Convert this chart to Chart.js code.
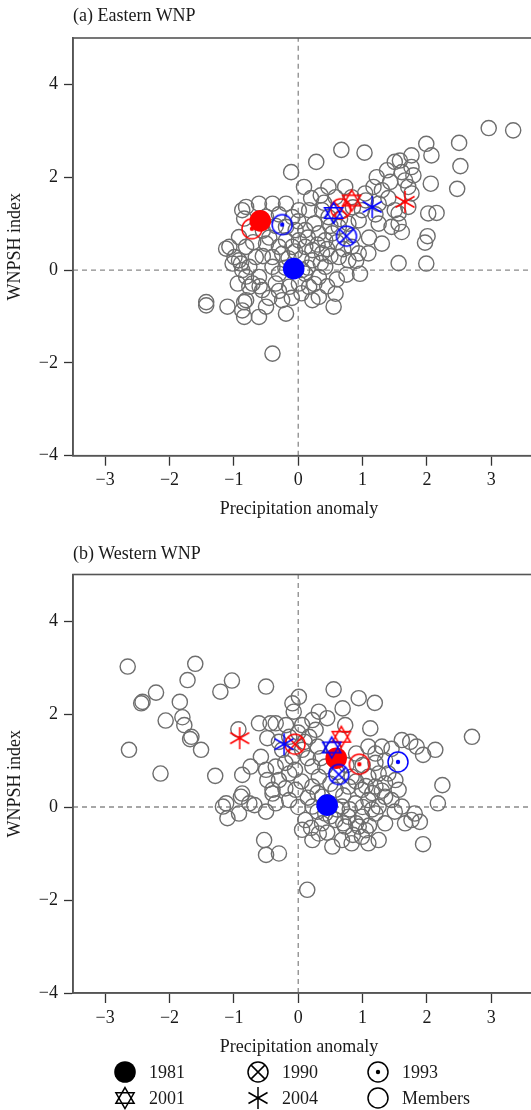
<!DOCTYPE html>
<html>
<head>
<meta charset="utf-8">
<script src="https://cdn.jsdelivr.net/npm/chart.js"></script>
<style>
  html, body { margin: 0; padding: 0; background: #fff; overflow: hidden; width: 531px; height: 1110px; }
  body { position: relative; font-family: "Liberation Serif", "Times New Roman", serif; color: #1a1a1a; }
  canvas { position: absolute; left: 0; }
  .ptitle { position: absolute; left: 73px; font-size: 18px; line-height: 20px; z-index: 2; }
  .xtitle { position: absolute; left: 199px; width: 200px; text-align: center; font-size: 18px; line-height: 20px; z-index: 2; }
  .leg { position: absolute; font-size: 18px; line-height: 20px; }
  .sym { position: absolute; }
</style>
</head>
<body>
<div class="ptitle" style="top:5px">(a) Eastern WNP</div>
<canvas id="east" width="560" height="525" style="top:0"></canvas>
<div class="xtitle" style="top:498px">Precipitation anomaly</div>
<div class="ptitle" style="top:543px">(b) Western WNP</div>
<canvas id="west" width="560" height="535" style="top:530px"></canvas>
<div class="xtitle" style="top:1036px">Precipitation anomaly</div>
<div id="legend"></div>

<script>
// axis ranges (right edge is cut off in the original figure)
const xMin = -3.5, xMax = 3.9;
const yMin = -4, yMax = 5;

const years = ['1981', '1990', '1993', '2001', '2004'];
const yearKinds = ['fill', 'cross', 'dot', 'star', 'ast'];

// [precip anomaly, WNPSH index] per year, red and blue versions
const eastRed  = [[-0.59, 1.06], [0.66, 1.32], [-0.72, 0.89], [0.83, 1.50], [1.66, 1.47]];
const eastBlue = [[-0.07, 0.03], [0.75, 0.73], [-0.25, 0.98], [0.55, 1.23], [1.15, 1.36]];
const westRed  = [[0.59, 1.05], [-0.05, 1.35], [0.95, 0.92], [0.67, 1.51], [-0.91, 1.48]];
const westBlue = [[0.45, 0.04], [0.63, 0.70], [1.55, 0.97], [0.52, 1.28], [-0.22, 1.35]];

const eastMembers = [
  [2.96,3.06],[3.34,3.01],[2.5,2.74],[2.52,2.24],[2.47,1.75],[1.99,2.72],[2.07,2.47],[1.76,2.47],
  [1.76,2.22],[1.79,2.04],[2.06,1.86],[1.71,1.79],[2.02,1.22],[2.15,1.23],[2.01,0.73],[1.97,0.59],
  [1.99,0.14],[1.61,0.82],[1.56,0.15],[1.56,1.0],[1.56,1.22],[1.58,2.36],
  [0.67,2.59],[1.03,2.53],[0.28,2.33],[-0.11,2.11],[0.09,1.79],[1.5,2.33],[1.38,2.15],[1.61,2.11],
  [1.22,2.0],[1.43,1.9],[1.66,1.93],[1.76,1.65],[0.47,1.79],[0.73,1.79],[0.35,1.61],[0.58,1.57],
  [0.83,1.57],[1.04,1.65],[1.17,1.79],[1.3,1.72],[1.25,1.43],[1.5,1.29],[1.71,1.36],[1.25,1.0],
  [1.45,0.93],[1.3,0.57],[0.96,-0.08],[1.09,0.36],[0.94,0.36],[0.83,0.5],[0.63,0.28],[0.78,0.21],
  [0.58,-0.51],[0.55,-0.79],[0.32,-0.58],[0.22,-0.65],[0.17,-0.36],[0.01,-0.29],[0.06,0.0],[-0.14,-0.36],
  [-0.3,-0.08],[-0.4,-1.8],[-0.25,-0.65],[-0.19,-0.94],[-0.5,-0.79],[-0.61,-1.01],[-0.81,-0.65],[-0.76,-0.36],
  [-0.87,-0.87],[-0.81,0.5],[-0.66,0.28],[-0.92,0.21],[-0.76,0.07],
  [-0.5,0.57],[-0.4,0.28],[-0.3,0.5],[-0.19,0.64],[-0.09,0.5],[0.01,0.64],[0.11,0.5],[0.22,0.43],
  [0.22,0.21],[0.37,0.36],[0.42,0.64],[0.32,0.79],[0.11,0.86],[-0.04,0.86],[-0.19,0.93],[-0.09,1.14],
  [0.01,1.29],[0.17,1.29],[-0.19,1.43],[-0.4,1.43],[-0.61,1.43],[-0.81,1.36],
  [0.37,1.29],[0.47,1.14],[0.63,0.93],[0.78,1.0],[0.94,1.07],[0.99,1.29],[0.53,0.79],[0.42,0.07],
  [0.32,-0.15],[0.11,-0.08],[-0.09,0.07],[-0.4,0.07],[-0.61,-0.15],[-0.71,-0.29],[-0.56,-0.43],[-0.35,-0.29],
  [-0.87,1.29],[-0.84,1.11],[-0.92,0.71],[-1.07,0.5],[-1.12,0.46],[-0.99,0.28],[-0.89,0.14],[-0.87,0.0],
  [-1.02,0.14],[-0.94,-0.29],[-0.81,-0.14],[-1.43,-0.69],[-1.43,-0.76],[-1.1,-0.79],[-0.84,-0.69],[-0.84,-1.01],
  [-0.55,0.85],[-0.45,0.7],[-0.35,0.95],[-0.25,0.35],[-0.15,0.25],[-0.05,0.4],[0.05,0.25],[0.15,0.7],
  [0.25,1.0],[0.3,0.55],[0.45,0.45],[0.5,0.95],[0.6,0.6],[0.7,0.45],[0.85,0.75],[0.9,0.2],
  [0.75,-0.1],[0.6,-0.2],[0.45,-0.35],[0.25,-0.3],[0.05,-0.5],[-0.1,-0.6],[-0.3,-0.45],[-0.45,-0.6],
  [-0.6,-0.35],[-0.55,0.3],[-0.2,0.05],[0.15,0.05],[0.35,0.15],[0.5,0.3],[0.65,1.1],[0.4,1.45],
  [0.2,1.55],[0.0,1.05],[-0.3,1.2],[-0.5,1.15],[-0.7,0.6],[1.1,0.7],[1.2,1.2],[0.85,1.35],
  [1.05,1.5],[1.4,1.55]
];

const westMembers = [
  [-2.65,3.02],[-1.6,3.08],[-1.72,2.73],[-2.21,2.46],[-2.42,2.26],[-2.44,2.23],[-1.84,2.26],[-2.06,1.86],
  [-1.8,1.93],[-1.77,1.76],[-1.66,1.51],[-1.68,1.46],[-1.51,1.23],[-2.63,1.23],[-2.14,0.72],[-1.21,2.48],
  [-1.03,2.72],[-0.5,2.59],[-1.29,0.67],[-0.93,1.67],[-0.61,1.8],[-0.43,1.8],[-0.48,1.48],[-0.58,1.08],
  [-0.74,0.87],[-0.87,0.69],[-0.5,0.8],[-0.48,0.58],[-1.12,0.08],[-1.17,0.01],[-1.1,-0.24],[-0.92,-0.14],
  [-0.89,0.22],[-0.76,0.08],[-0.68,0.04],[-0.5,-0.1],[-0.4,0.29],[-0.87,0.29],[-0.53,-0.71],[-0.5,-1.03],
  [-0.3,-1.0],
  [0.55,2.53],[0.94,2.34],[1.19,2.24],[0.69,2.12],[0.01,2.37],[-0.09,2.23],[-0.07,2.05],[0.32,2.05],
  [0.45,1.91],[0.22,1.87],[0.06,1.76],[-0.19,1.76],[-0.35,1.8],[1.12,1.69],[0.73,1.76],[1.09,1.3],
  [1.3,1.3],[1.61,1.44],[1.74,1.4],[1.84,1.3],[1.76,-0.28],[1.61,0.01],[1.66,-0.35],[1.81,-0.14],
  [0.14,-1.78],
  [0.06,-0.49],[0.22,-0.71],[0.32,-0.57],[0.53,-0.85],[0.68,-0.71],[0.83,-0.78],[0.99,-0.64],[1.09,-0.78],
  [1.25,-0.71],[0.94,-0.42],[0.73,-0.42],
  [-0.35,0.87],[-0.3,0.58],[-0.4,0.37],[-0.35,0.08],[-0.14,0.15],[-0.04,0.37],[-0.14,0.72],[-0.09,1.08],
  [0.06,1.23],[0.17,1.51],[0.27,1.66],[-0.14,1.51],[-0.25,1.23],
  [0.22,0.44],[0.37,0.22],[0.58,0.37],[0.78,0.44],[0.99,0.37],[1.2,0.44],[1.35,0.22],[0.22,0.01],
  [0.42,-0.14],[0.68,0.01],[0.89,0.08],[1.09,0.15],[1.25,0.01],[0.11,-0.28],[0.37,-0.35],[0.58,-0.28],
  [0.78,-0.21],[0.99,-0.21],[1.2,-0.14],[1.35,0.51],[1.4,0.72],[1.25,0.72],[1.09,0.65],[0.83,0.65],
  [0.32,0.65],[0.42,0.87],[0.22,0.87],[1.51,0.58],[1.56,0.37],[1.45,0.15],
  [2.7,1.51],[2.13,1.23],[1.94,1.12],[2.24,0.47],[2.17,0.08],[1.89,-0.32],[1.94,-0.8],
  [0.3,0.3],[0.5,0.5],[0.7,0.25],[0.9,0.55],[1.05,0.45],[1.15,0.3],[1.3,0.35],[0.45,0.1],
  [0.6,-0.05],[0.8,-0.05],[1.0,0.0],[1.15,-0.05],[0.3,-0.1],[0.5,-0.2],[0.7,-0.35],[0.9,-0.35],
  [1.1,-0.4],[0.2,-0.45],[0.45,-0.55],[0.85,-0.6],[1.05,-0.5],[0.15,0.2],[0.05,0.55],[0.6,0.75],
  [0.75,0.9],[1.0,0.9],[1.2,0.95],[1.35,1.0],[0.35,1.05],[0.15,1.05],[-0.2,0.95],[-0.05,0.8],
  [0.1,1.4],[0.3,1.3],[0.0,1.6],[-0.3,1.4],[0.9,1.15],[1.2,1.15],[1.45,1.25],[0.55,1.25],
  [-0.2,0.4],[0.0,0.0],[1.5,-0.1],[1.35,-0.35]
];

const serif = '"Liberation Serif", "Times New Roman", serif';
Chart.defaults.font.family = serif;
Chart.defaults.font.size = 18;
Chart.defaults.color = '#1a1a1a';

// small canvases used as point styles
function makeMarker(kind, color) {
  const c = document.createElement('canvas');
  c.width = 26; c.height = 26;
  const g = c.getContext('2d');
  g.translate(13, 13);
  g.strokeStyle = color;
  g.fillStyle = color;
  g.lineWidth = 1.5;
  if (kind === 'cross' || kind === 'dot' || kind === 'open') {
    g.beginPath(); g.arc(0, 0, 10, 0, Math.PI * 2); g.stroke();
  }
  if (kind === 'fill') {
    g.beginPath(); g.arc(0, 0, 10.8, 0, Math.PI * 2); g.fill();
  }
  if (kind === 'cross') {
    const d = 7.1;
    g.beginPath(); g.moveTo(-d, -d); g.lineTo(d, d); g.moveTo(d, -d); g.lineTo(-d, d); g.stroke();
  }
  if (kind === 'dot') {
    g.beginPath(); g.arc(0, 0, 2.2, 0, Math.PI * 2); g.fill();
  }
  if (kind === 'star') {
    [-90, 90].forEach(a0 => {
      g.beginPath();
      for (let k = 0; k < 3; k++) {
        const a = (a0 + k * 120) * Math.PI / 180;
        const px = 10.5 * Math.cos(a), py = 10.5 * Math.sin(a);
        if (k) g.lineTo(px, py); else g.moveTo(px, py);
      }
      g.closePath(); g.stroke();
    });
  }
  if (kind === 'ast') {
    g.beginPath();
    [90, 30, 150].forEach(a => {
      const r = a * Math.PI / 180;
      g.moveTo(11 * Math.cos(r), 11 * Math.sin(r));
      g.lineTo(-11 * Math.cos(r), -11 * Math.sin(r));
    });
    g.stroke();
  }
  return c;
}

const frame = {
  id: 'frame',
  afterDatasetsDraw(chart) {
    const a = chart.chartArea, ctx = chart.ctx;
    ctx.save();
    ctx.strokeStyle = '#555';
    ctx.lineWidth = 1.6;
    ctx.strokeRect(a.left, a.top, a.right - a.left, a.bottom - a.top);
    ctx.restore();
  }
};

const minus = v => (v < 0 ? '\u2212' + Math.abs(v) : String(v));

function yearSets(points, color) {
  return points.map((p, i) => ({
    label: years[i],
    data: [{x: p[0], y: p[1]}],
    pointStyle: yearKinds[i] === 'fill' ? 'circle' : makeMarker(yearKinds[i], color),
    pointRadius: 10.8,
    backgroundColor: color,
    borderColor: color,
    borderWidth: 0,
    order: 1
  }));
}

function makeChart(id, members, red, blue, pad, xAxisH) {
  const dash = {
    type: 'line', borderColor: '#8a8a8a', borderWidth: 1.3, borderDash: [5, 4],
    pointRadius: 0, fill: false, order: 10
  };
  new Chart(document.getElementById(id), {
    type: 'scatter',
    data: {
      datasets: [
        Object.assign({data: [{x: 0, y: yMin}, {x: 0, y: yMax}]}, dash),
        Object.assign({data: [{x: xMin, y: 0}, {x: xMax, y: 0}]}, dash),
        {
          label: 'Members',
          data: members.map(p => ({x: p[0], y: p[1]})),
          pointStyle: 'circle',
          pointRadius: 7.6,
          borderWidth: 1.4,
          borderColor: '#6e6e6e',
          backgroundColor: 'rgba(0,0,0,0)',
          order: 5
        },
        ...yearSets(blue, '#0000ff'),
        ...yearSets(red, '#ff0000')
      ]
    },
    options: {
      responsive: false,
      animation: false,
      events: [],
      layout: {padding: pad},
      plugins: {legend: {display: false}, tooltip: {enabled: false}},
      scales: {
        x: {
          type: 'linear', min: xMin, max: xMax,
          ticks: {stepSize: 1, includeBounds: false, callback: minus, padding: 4, maxRotation: 0, autoSkip: false},
          grid: {drawOnChartArea: false, drawTicks: true, tickLength: 10, tickColor: '#333', tickWidth: 1.3},
          border: {display: true, color: '#555', width: 1.6},
          title: {display: false},
          afterFit: s => { s.height = xAxisH; }
        },
        y: {
          type: 'linear', min: yMin, max: yMax,
          ticks: {stepSize: 2, includeBounds: false, callback: minus, padding: 6},
          grid: {drawOnChartArea: false, drawTicks: true, tickLength: 9, tickColor: '#333', tickWidth: 1.3},
          border: {display: true, color: '#555', width: 1.6},
          title: {display: true, text: 'WNPSH index'},
          afterFit: s => { s.width = 73; }
        }
      }
    },
    plugins: [frame]
  });
}

makeChart('east', eastMembers, eastRed, eastBlue, {top: 38, left: 0, right: 5, bottom: 2.2}, 67.1);
makeChart('west', westMembers, westRed, westBlue, {top: 44.5, left: 0, right: 5, bottom: 4.5}, 67.5);

// legend below the second panel
const legendLabels = ['1981', '1990', '1993', '2001', '2004', 'Members'];
const legendKinds = ['fill', 'cross', 'dot', 'star', 'ast', 'open'];
const legCols = [125, 258, 378];
const legRows = [1072, 1098];
const leg = document.getElementById('legend');
legendLabels.forEach((txt, i) => {
  const cx = legCols[i % 3], cy = legRows[Math.floor(i / 3)];
  const m = makeMarker(legendKinds[i], '#000');
  m.className = 'sym';
  m.style.left = (cx - 13) + 'px';
  m.style.top = (cy - 13) + 'px';
  leg.appendChild(m);
  const t = document.createElement('div');
  t.className = 'leg';
  t.textContent = txt;
  t.style.left = (cx + 24) + 'px';
  t.style.top = (cy - 10) + 'px';
  leg.appendChild(t);
});
</script>
</body>
</html>
